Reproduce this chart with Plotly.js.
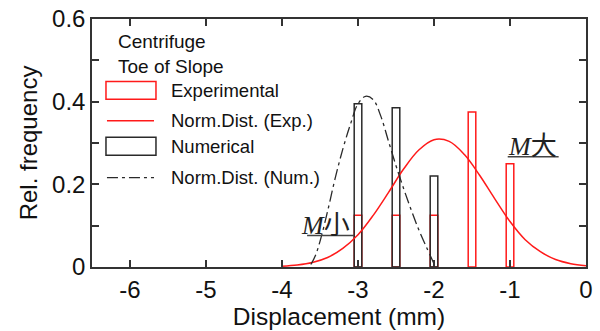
<!DOCTYPE html>
<html>
<head>
<meta charset="utf-8">
<script src="https://cdn.plot.ly/plotly-3.0.1.min.js"></script>
<style>
  html, body { margin: 0; padding: 0; background: #fff; }
  #chart { width: 600px; height: 331px; }
</style>
</head>
<body>
<div id="chart"></div>
<script>
// ---- data ----
const expBarX = [-3, -2.5, -2, -1.5, -1];
const expBarY = [0.125, 0.125, 0.125, 0.375, 0.25];

const numBarX = [-3, -2.5, -2];
const numBarY = [0.395, 0.385, 0.22];

const expCurveX = [-4, -3.8, -3.6, -3.4, -3.2, -3.0, -2.8, -2.6, -2.4, -2.2, -2.0, -1.8, -1.6, -1.4, -1.2, -1.0, -0.8, -0.6, -0.4, -0.2, 0];
const expCurveY = [0.002, 0.005, 0.011, 0.023, 0.045, 0.078, 0.125, 0.18, 0.237, 0.283, 0.308, 0.304, 0.272, 0.222, 0.165, 0.11, 0.066, 0.037, 0.018, 0.008, 0.003];

const numCurveX = [-3.62, -3.56, -3.5, -3.4, -3.3, -3.2, -3.1, -3.0, -2.9, -2.8, -2.7, -2.6, -2.5, -2.4, -2.3, -2.2, -2.1, -2.0];
const numCurveY = [0.006, 0.028, 0.062, 0.135, 0.215, 0.285, 0.345, 0.395, 0.413, 0.405, 0.365, 0.305, 0.245, 0.19, 0.138, 0.09, 0.048, 0.008];

const xTickVals = [-6, -5, -4, -3, -2, -1, 0];
const xTickText = ['-6', '-5', '-4', '-3', '-2', '-1', '0'];
const yTickVals = [0, 0.2, 0.4, 0.6];
const yTickText = ['0', '0.2', '0.4', '0.6'];

const names = ['Experimental', 'Norm.Dist. (Exp.)', 'Numerical', 'Norm.Dist. (Num.)'];
const headerLines = ['Centrifuge', 'Toe of Slope'];

// ---- styling ----
const RED = '#ff1a1a';
const DARK = '#2a2a2a';
const AXIS = '#333333';
const NUM_DASH = '11px,4px,3px,4px';
const FONT = 'Liberation Sans, Arial, sans-serif';

const traces = [
  {
    type: 'bar', x: expBarX, y: expBarY, width: 0.1, name: names[0],
    marker: { color: 'rgba(0,0,0,0)', line: { color: RED, width: 1.5 } }
  },
  {
    type: 'scatter', mode: 'lines', x: expCurveX, y: expCurveY, name: names[1],
    line: { color: RED, width: 1.5, shape: 'spline' }
  },
  {
    type: 'bar', x: numBarX, y: numBarY, width: 0.1, name: names[2],
    marker: { color: 'rgba(0,0,0,0)', line: { color: DARK, width: 1.5 } }
  },
  {
    type: 'scatter', mode: 'lines', x: numCurveX, y: numCurveY, name: names[3],
    line: { color: DARK, width: 1.3, dash: NUM_DASH, shape: 'spline' }
  }
];

// legend drawn in paper coordinates (wide symbols as in the reference)
const legX0 = 0.0283, legX1 = 0.1255, legTextX = 0.156;
const legRows = [0.712, 0.590, 0.487, 0.360];
const legHalfH = 0.036;
const legendShapes = [
  { type: 'rect', xref: 'paper', yref: 'paper', x0: legX0, x1: legX1 + 0.004,
    y0: legRows[0] - legHalfH, y1: legRows[0] + legHalfH, line: { color: RED, width: 1.5 }, fillcolor: 'rgba(0,0,0,0)' },
  { type: 'line', xref: 'paper', yref: 'paper', x0: legX0 + 0.002, x1: legX1,
    y0: legRows[1], y1: legRows[1], line: { color: RED, width: 1.5 } },
  { type: 'rect', xref: 'paper', yref: 'paper', x0: legX0, x1: legX1 + 0.004,
    y0: legRows[2] - legHalfH, y1: legRows[2] + legHalfH, line: { color: DARK, width: 1.5 }, fillcolor: 'rgba(0,0,0,0)' },
  { type: 'line', xref: 'paper', yref: 'paper', x0: legX0 + 0.002, x1: legX1,
    y0: legRows[3], y1: legRows[3], line: { color: DARK, width: 1.3, dash: NUM_DASH } }
];
const legendTexts = names.map((n, i) => ({
  xref: 'paper', yref: 'paper', x: legTextX, y: legRows[i], xanchor: 'left', yanchor: 'middle',
  text: n, showarrow: false, font: { size: 18.5, family: FONT, color: '#111' }
}));
const headerTexts = headerLines.map((t, i) => ({
  xref: 'paper', yref: 'paper', x: 0.048, y: [0.908, 0.808][i], xanchor: 'left', yanchor: 'middle',
  text: t, showarrow: false, font: { size: 19, family: FONT, color: '#111' }
}));

const layout = {
  width: 600, height: 331,
  margin: { l: 92, r: 14, t: 19, b: 64 },
  paper_bgcolor: '#fff', plot_bgcolor: '#fff',
  barmode: 'overlay',
  font: { family: FONT, color: '#111', size: 24 },
  showlegend: false,
  xaxis: {
    range: [-6.5, 0], tickvals: xTickVals, ticktext: xTickText,
    ticks: 'inside', ticklen: 7, tickwidth: 1.5, tickcolor: AXIS,
    showline: true, linecolor: AXIS, linewidth: 1.5, mirror: 'ticks',
    showgrid: false, zeroline: false,
    tickfont: { size: 24 },
    title: { text: 'Displacement (mm)', font: { size: 24.5 }, standoff: 0 }
  },
  yaxis: {
    range: [0, 0.6], tickvals: yTickVals, ticktext: yTickText,
    ticks: 'inside', ticklen: 7, tickwidth: 1.5, tickcolor: AXIS,
    minor: { dtick: 0.1, ticks: 'inside', ticklen: 7, tickwidth: 1.5, tickcolor: AXIS, showgrid: false },
    showline: true, linecolor: AXIS, linewidth: 1.5, mirror: 'ticks',
    showgrid: false, zeroline: false,
    tickfont: { size: 24 },
    title: { text: 'Rel. frequency', font: { size: 24 }, standoff: 8 }
  },
  annotations: headerTexts.concat(legendTexts).concat([
    { xref: 'x', yref: 'y', x: -3.43, y: 0.108, xanchor: 'center', yanchor: 'middle',
      text: '<i>M</i><span style="font-family:Noto Sans CJK JP">小</span>', showarrow: false,
      font: { size: 26, family: 'Liberation Serif, Times New Roman, serif', color: '#222' } },
    { xref: 'x', yref: 'y', x: -0.70, y: 0.298, xanchor: 'center', yanchor: 'middle',
      text: '<i>M</i><span style="font-family:Noto Sans CJK JP">大</span>', showarrow: false,
      font: { size: 26, family: 'Liberation Serif, Times New Roman, serif', color: '#222' } }
  ]),
  shapes: legendShapes.concat([
    { type: 'line', xref: 'x', yref: 'y', x0: -3.67, x1: -3.05, y0: 0.076, y1: 0.076,
      line: { color: '#444', width: 1.5 } },
    { type: 'line', xref: 'x', yref: 'y', x0: -1.03, x1: -0.36, y0: 0.267, y1: 0.267,
      line: { color: '#444', width: 1.5 } }
  ])
};

Plotly.newPlot('chart', traces, layout, { displayModeBar: false, responsive: false });
</script>
</body>
</html>
